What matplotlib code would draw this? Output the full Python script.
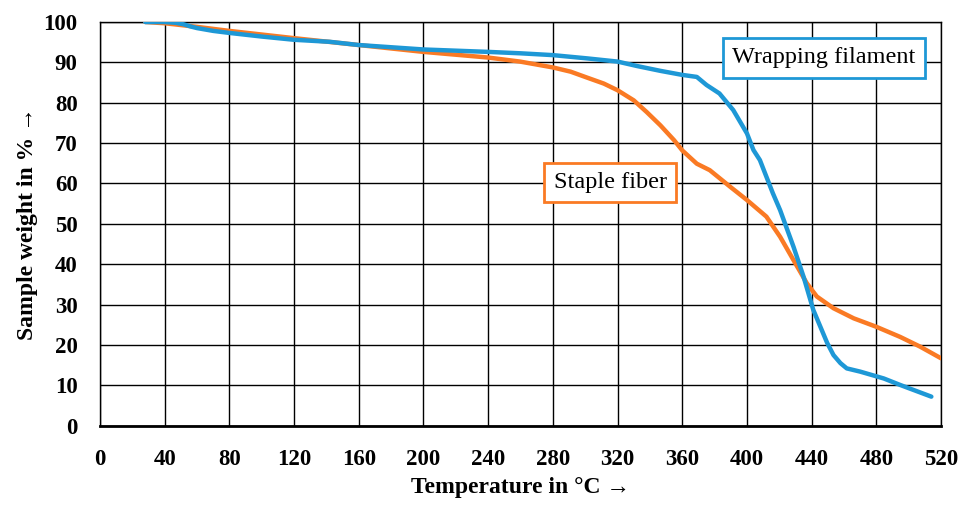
import matplotlib
matplotlib.use("Agg")
import matplotlib.pyplot as plt

plt.rcParams['font.family'] = ['Liberation Serif', 'DejaVu Serif']

# TGA curves: temperature (°C) vs. remaining sample weight (%)
filament_temp = [28, 40, 47, 52, 56, 60, 70, 80, 100, 120, 142, 160, 200, 240, 260, 280,
                 301, 320, 332, 346.5, 360, 369, 375, 383, 391.5, 400, 404, 408, 412, 416,
                 420.5, 428.8, 435, 441, 449.6, 453.5, 457.8, 461.7, 470, 484.6, 494.7, 514]
filament_weight = [100, 100, 99.8, 99.4, 98.9, 98.5, 97.8, 97.3, 96.4, 95.6, 95.1, 94.3,
                   93.2, 92.6, 92.25, 91.8, 91.0, 90.2, 89.1, 87.9, 86.9, 86.4, 84.4, 82.3,
                   78.2, 72.4, 68.3, 65.8, 61.7, 57.6, 53.4, 44.3, 36.9, 28.7, 20.5, 17.5,
                   15.5, 14.2, 13.4, 11.7, 10.1, 7.2]

fiber_temp = [28, 40, 60, 80, 120, 160, 200, 240, 259.7, 280, 291, 301, 311.5, 320, 330,
              338, 346.5, 355, 360, 369, 377, 389.6, 400, 412, 420.5, 428.8, 437, 443.2,
              453.5, 466, 480, 494.7, 507, 520]
fiber_weight = [100, 99.7, 98.8, 97.8, 96.0, 94.3, 92.6, 91.2, 90.2, 88.75, 87.7, 86.25,
                84.75, 83.1, 80.6, 77.7, 74.4, 70.7, 68.2, 64.9, 63.3, 59.2, 55.9, 51.8,
                46.8, 41.0, 35.3, 32.0, 29.1, 26.6, 24.5, 22.0, 19.6, 16.7]

x_ticks = list(range(0, 521, 40))
y_ticks = list(range(0, 101, 10))

blue = '#1E98D6'
orange = '#FA7A24'

fig = plt.figure(figsize=(9.64, 5.05), dpi=100)
ax = fig.add_axes([0.1037, 0.157, 0.8725, 0.7994])

ax.plot(fiber_temp, fiber_weight, color=orange, lw=3.2, solid_capstyle='round',
        solid_joinstyle='round', zorder=3)
ax.plot(filament_temp, filament_weight, color=blue, lw=3.2, solid_capstyle='round',
        solid_joinstyle='round', zorder=4)

ax.set_xlim(0, 520)
ax.set_ylim(0, 100)
ax.set_xticks(x_ticks)
ax.set_yticks(y_ticks)
ax.grid(True, color='black', lw=1.0)
ax.set_axisbelow(True)
ax.tick_params(length=0, labelsize=16.5)
ax.tick_params(axis='y', pad=16)
ax.tick_params(axis='x', pad=17)
for lab in ax.get_xticklabels() + ax.get_yticklabels():
    lab.set_fontweight('bold')
for side in ['top', 'right', 'left']:
    ax.spines[side].set_linewidth(1.0)
ax.spines['bottom'].set_linewidth(2.0)

ax.set_xlabel('Temperature in °C →', fontsize=17, fontweight='bold', labelpad=5)
ax.set_ylabel('Sample weight in % →', fontsize=17, fontweight='bold', labelpad=4)

ax.text(447.7, 91.1, 'Wrapping filament', fontsize=17.5, ha='center', va='center', zorder=5,
        bbox=dict(boxstyle='square,pad=0.38', fc='white', ec=blue, lw=2))
ax.text(315.4, 60.2, 'Staple fiber', fontsize=17.5, ha='center', va='center', zorder=5,
        bbox=dict(boxstyle='square,pad=0.38', fc='white', ec=orange, lw=2))

fig.savefig('out.png', dpi=100)
